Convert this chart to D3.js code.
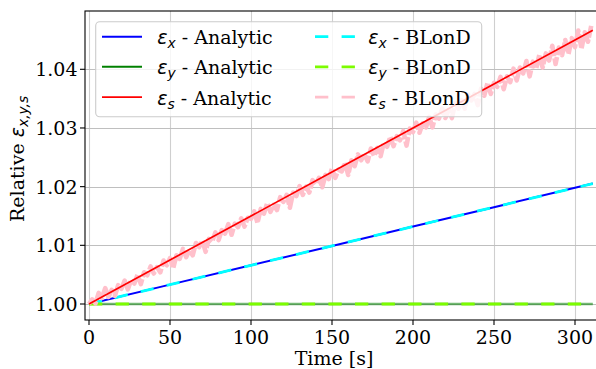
<!DOCTYPE html>
<html>
<head>
<meta charset="utf-8">
<script src="https://cdn.jsdelivr.net/npm/d3@7"></script>
<style>
  html, body { margin: 0; padding: 0; background: #fff; }
  svg { display: block; }
</style>
</head>
<body>
<div id="chart"></div>
<script>
// ---------------- data ----------------
const xTicks = [0, 50, 100, 150, 200, 250, 300];
const yTicks = [1.00, 1.01, 1.02, 1.03, 1.04];

// analytic curves (sampled along time)
const aTime = [0, 50, 100, 150, 200, 250, 300, 311];
const exAnalytic = [1.0000, 1.0033, 1.0066, 1.0099, 1.0132, 1.0165, 1.0198, 1.02053];
const eyAnalytic = [1.0000, 1.0000, 1.0000, 1.0000, 1.0000, 1.0000, 1.0000, 1.0000];
const esAnalytic = [1.0000, 1.0075, 1.0150, 1.0225, 1.0300, 1.0375, 1.0450, 1.04665];

// BLonD simulation results
const exBlond = [1.0000, 1.0033, 1.0066, 1.0099, 1.0132, 1.0165, 1.0198, 1.02053];
const eyBlond = [1.0000, 1.0000, 1.0000, 1.0000, 1.0000, 1.0000, 1.0000, 1.0000];
const bTime = [0,2,4,6,8,10,12,14,16,18,20,22,24,26,28,30,32,34,36,38,40,42,44,46,48,50,
  52,54,56,58,60,62,64,66,68,70,72,74,76,78,80,82,84,86,88,90,92,94,96,98,100,
  102,104,106,108,110,112,114,116,118,120,122,124,126,128,130,132,134,136,138,140,
  142,144,146,148,150,152,154,156,158,160,162,164,166,168,170,172,174,176,178,180,
  182,184,186,188,190,192,194,196,198,200,202,204,206,208,210,212,214,216,218,220,
  222,224,226,228,230,232,234,236,238,240,242,244,246,248,250,252,254,256,258,260,
  262,264,266,268,270,272,274,276,278,280,282,284,286,288,290,292,294,296,298,300,
  302,304,306,308,310];
const esBlond = [1.0000,1.0008,1.0001,1.0019,1.0010,1.0027,1.0012,1.0024,1.0014,1.0032,
  1.0026,1.0040,1.0025,1.0041,1.0035,1.0050,1.0034,1.0054,1.0049,1.0064,
  1.0052,1.0063,1.0054,1.0074,1.0066,1.0078,1.0061,1.0083,1.0077,1.0094,
  1.0080,1.0092,1.0083,1.0104,1.0097,1.0108,1.0089,1.0111,1.0106,1.0122,
  1.0109,1.0126,1.0120,1.0136,1.0118,1.0137,1.0131,1.0146,1.0132,1.0147,
  1.0145,1.0158,1.0138,1.0162,1.0154,1.0172,1.0157,1.0169,1.0160,1.0182,
  1.0174,1.0186,1.0164,1.0190,1.0184,1.0201,1.0186,1.0200,1.0190,1.0211,
  1.0204,1.0215,1.0199,1.0220,1.0213,1.0231,1.0215,1.0229,1.0226,1.0241,
  1.0220,1.0245,1.0235,1.0255,1.0245,1.0256,1.0243,1.0265,1.0252,1.0266,
  1.0252,1.0275,1.0268,1.0285,1.0269,1.0286,1.0279,1.0295,1.0270,1.0299,
  1.0293,1.0309,1.0292,1.0308,1.0301,1.0319,1.0301,1.0323,1.0316,1.0333,
  1.0317,1.0331,1.0317,1.0343,1.0333,1.0347,1.0333,1.0357,1.0347,1.0358,
  1.0339,1.0367,1.0355,1.0377,1.0358,1.0377,1.0370,1.0387,1.0366,1.0388,
  1.0378,1.0401,1.0381,1.0403,1.0393,1.0414,1.0388,1.0413,1.0401,1.0425,
  1.0403,1.0427,1.0415,1.0440,1.0409,1.0437,1.0424,1.0450,1.0426,1.0453,
  1.0438,1.0466,1.0435,1.0463,1.0447,1.0474];

const legendLabels = [
  {sub: "x", text: " - Analytic", color: "#0000ff", dash: null, w: 2},
  {sub: "y", text: " - Analytic", color: "#008000", dash: null, w: 2},
  {sub: "s", text: " - Analytic", color: "#ff0000", dash: null, w: 1.7},
  {sub: "x", text: " - BLonD", color: "#00ffff", dash: "13.3,13.3", w: 2.8},
  {sub: "y", text: " - BLonD", color: "#7cfc00", dash: "13.3,13.3", w: 2.8},
  {sub: "s", text: " - BLonD", color: "#ffc0cb", dash: "13.3,13.3", w: 2.8}
];

// ---------------- layout ----------------
const W = 596, H = 369;
const mLeft = 85, mRight = 597, mTop = 11, mBottom = 320;
const serif = "'DejaVu Serif', serif";
const sans = "'DejaVu Sans', sans-serif";
const FS = 19;

const x = d3.scaleLinear().domain([-2.469, 313.58]).range([mLeft, mRight]);
const y = d3.scaleLinear().domain([0.997273, 1.049936]).range([mBottom, mTop]);

const svg = d3.select("#chart").append("svg")
  .attr("width", W).attr("height", H)
  .attr("viewBox", `0 0 ${W} ${H}`);

svg.append("defs").append("clipPath").attr("id", "clip")
  .append("rect").attr("x", mLeft).attr("y", mTop)
  .attr("width", mRight - mLeft).attr("height", mBottom - mTop);

// grid
const grid = svg.append("g");
grid.selectAll(".gx").data(xTicks).join("line")
  .attr("x1", d => Math.round(x(d)) + 0.5).attr("x2", d => Math.round(x(d)) + 0.5)
  .attr("y1", mTop).attr("y2", mBottom)
  .attr("stroke", "#cfcfcf").attr("stroke-width", 1.1);
grid.selectAll(".gy").data(yTicks).join("line")
  .attr("y1", d => Math.round(y(d)) + 0.5).attr("y2", d => Math.round(y(d)) + 0.5)
  .attr("x1", mLeft).attr("x2", mRight)
  .attr("stroke", "#bfbfbf").attr("stroke-width", 1.1);

// lines
const plot = svg.append("g").attr("clip-path", "url(#clip)");
function pts(times, vals) { return times.map((t, i) => [t, vals[i]]); }
const line = d3.line().x(d => x(d[0])).y(d => y(d[1]));

function drawLine(data, color, w, dash, opacity) {
  const p = plot.append("path").datum(data)
    .attr("d", line).attr("fill", "none")
    .attr("stroke", color).attr("stroke-width", w)
    .attr("stroke-linejoin", "round");
  if (dash) p.attr("stroke-dasharray", dash);
  if (opacity) p.attr("stroke-opacity", opacity);
}

drawLine(pts(aTime, exAnalytic), "#0000ff", 2, null);
drawLine(pts(aTime, eyAnalytic), "#008000", 2.4, null, 0.55);
drawLine(pts(aTime, exBlond), "#00ffff", 2.8, "13.3,13.3");
drawLine(pts(aTime, eyBlond), "#7cfc00", 2.8, "13.3,13.3");
drawLine(pts(bTime, esBlond), "#ffc0cb", 4.6, "13.3,2");
drawLine(pts(aTime, esAnalytic), "#ff0000", 1.7, null);

// spines
const sp = svg.append("g").attr("stroke", "#000").attr("stroke-width", 1.1).attr("fill", "none");
sp.append("rect").attr("x", mLeft).attr("y", mTop).attr("width", mRight - mLeft).attr("height", mBottom - mTop);

// ticks
const ax = svg.append("g");
ax.selectAll(".tx").data(xTicks).join("line")
  .attr("x1", d => x(d)).attr("x2", d => x(d))
  .attr("y1", mBottom).attr("y2", mBottom + 5)
  .attr("stroke", "#000").attr("stroke-width", 1.1);
ax.selectAll(".lx").data(xTicks).join("text")
  .attr("x", d => x(d)).attr("y", 343.5)
  .attr("text-anchor", "middle")
  .attr("font-family", serif).attr("font-size", FS).attr("fill", "#000")
  .text(d => d);
ax.selectAll(".ty").data(yTicks).join("line")
  .attr("x1", mLeft - 5).attr("x2", mLeft)
  .attr("y1", d => y(d)).attr("y2", d => y(d))
  .attr("stroke", "#000").attr("stroke-width", 1.1);
ax.selectAll(".ly").data(yTicks).join("text")
  .attr("x", 77.5).attr("y", d => y(d) + 7)
  .attr("text-anchor", "end")
  .attr("font-family", serif).attr("font-size", FS).attr("fill", "#000")
  .text(d => d3.format(".2f")(d));

// axis labels
svg.append("text").attr("x", 334).attr("y", 365)
  .attr("text-anchor", "middle")
  .attr("font-family", serif).attr("font-size", FS).attr("fill", "#000")
  .text("Time [s]");

const yl = svg.append("text")
  .attr("transform", "translate(24,222) rotate(-90)")
  .attr("font-family", serif).attr("font-size", FS).attr("fill", "#000");
yl.append("tspan").text("Relative ");
yl.append("tspan").attr("font-family", sans).attr("font-style", "italic").text("ε");
yl.append("tspan").attr("font-family", sans).attr("font-style", "italic")
  .attr("font-size", 13.8).attr("dy", 4).text("x,y,s");

// legend
const lg = svg.append("g");
lg.append("rect").attr("x", 95.7).attr("y", 21.7).attr("width", 386).attr("height", 95)
  .attr("rx", 4).attr("ry", 4)
  .attr("fill", "#fff").attr("fill-opacity", 0.8)
  .attr("stroke", "#cccccc").attr("stroke-width", 1.1);
const colX = [102, 315];
const textX = [157.3, 368.3];
const rowY = [36.7, 66.8, 97.1];
legendLabels.forEach((d, i) => {
  const c = Math.floor(i / 3), r = i % 3;
  const ly = rowY[r];
  const l = lg.append("line")
    .attr("x1", colX[c]).attr("x2", colX[c] + 40)
    .attr("y1", ly).attr("y2", ly)
    .attr("stroke", d.color).attr("stroke-width", d.w);
  if (d.dash) l.attr("stroke-dasharray", d.dash);
  const t = lg.append("text").attr("x", textX[c]).attr("y", ly + 7.5)
    .attr("font-family", serif).attr("font-size", FS).attr("fill", "#000");
  t.append("tspan").attr("font-family", sans).attr("font-style", "italic").text("ε");
  t.append("tspan").attr("font-family", sans).attr("font-style", "italic")
    .attr("font-size", 13.8).attr("dy", 4).text(d.sub);
  t.append("tspan").attr("dy", -4).text(d.text);
});
</script>
</body>
</html>
